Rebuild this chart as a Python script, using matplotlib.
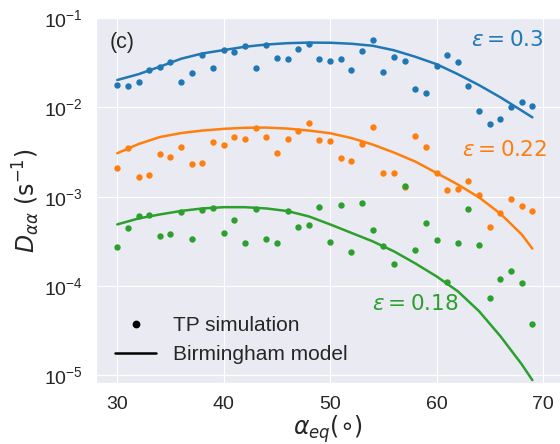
import matplotlib
matplotlib.use("Agg")
import matplotlib.pyplot as plt
from matplotlib.lines import Line2D
import seaborn as sns

# pitch angle grid of the test-particle runs (deg)
alpha_sim = list(range(30, 70))

# TP simulation, D_aa (1/s)
sim_03 = [0.01795, 0.01746, 0.01936, 0.02636, 0.02825, 0.03213, 0.01922, 0.02399, 0.03845, 0.02780,
          0.04415, 0.04188, 0.04808, 0.02754, 0.04977, 0.03565, 0.03499, 0.04529, 0.05150, 0.03475,
          0.03326, 0.03438, 0.02618, 0.04266, 0.05702, 0.02506, 0.03656, 0.03296, 0.01607, 0.01459,
          0.02924, 0.03845, 0.03243, 0.01718, 0.00919, 0.00658, 0.00748, 0.01009, 0.01137, 0.01026]
sim_022 = [0.00212, 0.00352, 0.00167, 0.00176, 0.00299, 0.00281, 0.00361, 0.00235, 0.00237, 0.00411,
           0.00383, 0.00467, 0.00447, 0.00582, 0.00462, 0.00309, 0.00447, 0.00549, 0.00662, 0.00432,
           0.00417, 0.00274, 0.00249, 0.00393, 0.00604, 0.00183, 0.00183, 0.00128, 0.00479, 0.00357,
           0.00185, 0.00118, 0.00123, 0.00148, 0.00105, 0.000453, 0.000649, 0.000937, 0.000791, 0.000695]
sim_018 = [0.000270, 0.000450, 0.000605, 0.000617, 0.000359, 0.000378, 0.000678, 0.000333, 0.000714, 0.000738,
           0.000388, 0.000552, 0.000302, 0.000719, 0.000333, 0.000305, 0.000684, 0.000461, 0.000481, 0.000757,
           0.000308, 0.000811, 0.000238, 0.000839, 0.000423, 0.000278, 0.000176, 0.00131, 0.000253, 0.000506,
           0.000324, 0.000110, 0.000305, 0.000719, 0.000290, 0.0000741, 0.000119, 0.000146, 0.000107, 0.0000380]

# Birmingham model
alpha_mod = [30, 32, 34, 36, 38, 40, 42, 44, 46, 48, 50, 52, 54, 56, 58, 60, 62, 64, 66, 68, 69]
mod_03 = [0.02023, 0.02350, 0.02851, 0.03499, 0.04010, 0.04375, 0.04765, 0.05047, 0.05227, 0.05307, 0.05283,
          0.05150, 0.04889, 0.04351, 0.03681, 0.03041, 0.02350, 0.01770, 0.01294, 0.00919, 0.00773]
mod_022 = [0.003062, 0.003882, 0.004646, 0.005152, 0.005495, 0.005741, 0.005904, 0.005933, 0.005781, 0.005495,
           0.005127, 0.004532, 0.003829, 0.003117, 0.002472, 0.001841, 0.001368, 0.000980, 0.000644, 0.000378,
           0.000262]
mod_018 = [0.000489, 0.000570, 0.000632, 0.000692, 0.000738, 0.000762, 0.000762, 0.000738, 0.000689, 0.000601,
           0.000489, 0.000393, 0.000316, 0.000244, 0.000179, 0.000128, 0.0000872, 0.0000521, 0.0000274,
           0.0000133, 0.00000883]

eps_labels = [r'$\varepsilon = 0.3$', r'$\varepsilon = 0.22$', r'$\varepsilon = 0.18$']

sns.set_style("darkgrid")
plt.rcParams['font.family'] = ['Liberation Sans', 'DejaVu Sans']

fig = plt.figure(figsize=(5.6, 4.44), dpi=100)
ax = fig.add_axes([96 / 560, 61 / 444, 464 / 560, 365 / 444])

colors = ['#1f77b4', '#ff7f0e', '#2ca02c']
sims = [sim_03, sim_022, sim_018]
mods = [mod_03, mod_022, mod_018]
for sim, mod, c in zip(sims, mods, colors):
    ax.plot(alpha_sim, sim, 'o', color=c, markersize=4.6, markeredgewidth=0)
    ax.plot(alpha_mod, mod, '-', color=c, lw=1.8)

ax.set_yscale('log')
ax.set_xlim(28.0, 71.6)
ax.set_ylim(8.2e-6, 0.1)
ax.set_xticks([30, 40, 50, 60, 70])
ax.tick_params(labelsize=14, pad=6)

ax.text(70.0, 0.0556, eps_labels[0], color=colors[0], fontsize=15.5, ha='right', va='center')
ax.text(70.35, 0.00328, eps_labels[1], color=colors[1], fontsize=15.5, ha='right', va='center')
ax.text(62.1, 6.25e-5, eps_labels[2], color=colors[2], fontsize=15.5, ha='right', va='center')
ax.text(0.03, 0.934, '(c)', transform=ax.transAxes, fontsize=15.5, va='center')

ax.set_xlabel(r'$\alpha_{eq}(\circ)$', fontsize=17, labelpad=0)
ax.set_ylabel(r'$D_{\alpha\alpha}\ (\mathrm{s}^{-1})$', fontsize=17, labelpad=1)

handles = [Line2D([], [], marker='o', ls='', color='k', markersize=4.6),
           Line2D([], [], ls='-', color='k', lw=1.8)]
ax.legend(handles, ['TP simulation', 'Birmingham model'], loc='lower left',
          bbox_to_anchor=(0.0, 0.0), frameon=False, fontsize=15)

fig.savefig('out.png', dpi=100)
